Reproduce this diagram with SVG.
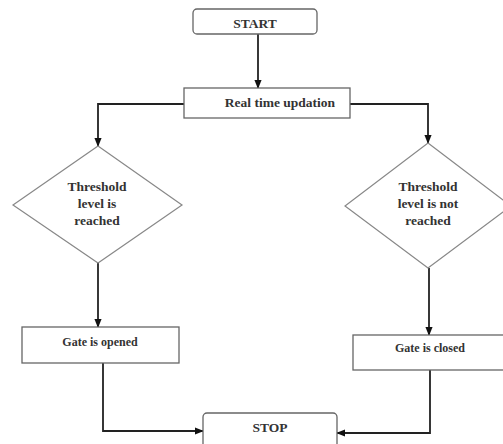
<svg xmlns="http://www.w3.org/2000/svg" width="503" height="444" viewBox="0 0 503 444">
<defs>
<marker id="arr" viewBox="0 0 10 10" refX="9" refY="5" markerWidth="5" markerHeight="5" orient="auto">
<path d="M0,1 L10,5 L0,9 z" fill="#111"/>
</marker>
<style>
.box{fill:#fff;stroke:#666;stroke-width:1.3}
.dia{fill:#fff;stroke:#888;stroke-width:1.2}
.con{fill:none;stroke:#222;stroke-width:1.8;marker-end:url(#arr)}
text{font-family:"Liberation Serif","Times New Roman",serif;font-weight:bold;fill:#333;text-anchor:middle}
.t{font-size:13.5px}
.s{font-size:12px}
</style>
</defs>
<rect width="503" height="444" fill="#fff"/>
<g id="connectors">
<path class="con" d="M258,34 V88"/>
<path class="con" d="M184,104 H98 V146"/>
<path class="con" d="M350,104 H428 V143"/>
<path class="con" d="M98,263 V327"/>
<path class="con" d="M429,268 V335"/>
<path class="con" d="M103,363 V431 H203"/>
<path class="con" d="M430,370 V433 H337"/>
</g>
<g id="start">
<rect class="box" x="193" y="9" width="124" height="25" rx="4"/>
<text class="t" x="255" y="28">START</text>
</g>
<g id="update">
<rect class="box" x="184" y="88" width="166" height="30"/>
<text class="t" x="280" y="107">Real time updation</text>
</g>
<g id="reached">
<polygon class="dia" points="98,146 182,205 98,263 13,205"/>
<text class="t" x="97" y="191">Threshold</text>
<text class="t" x="97" y="208">level is</text>
<text class="t" x="97" y="225">reached</text>
</g>
<g id="notreached">
<polygon class="dia" points="428,143 511,206 428,268 345,206"/>
<text class="t" x="428" y="191">Threshold</text>
<text class="t" x="428" y="208">level is not</text>
<text class="t" x="428" y="225">reached</text>
</g>
<g id="opened">
<rect class="box" x="22" y="327" width="157" height="36"/>
<text class="s" x="100" y="346">Gate is opened</text>
</g>
<g id="closed">
<rect class="box" x="353" y="335" width="160" height="35"/>
<text class="s" x="430" y="352">Gate is closed</text>
</g>
<g id="stop">
<rect class="box" x="203" y="413" width="134" height="40" rx="4"/>
<text class="t" x="270" y="432">STOP</text>
</g>
</svg>
